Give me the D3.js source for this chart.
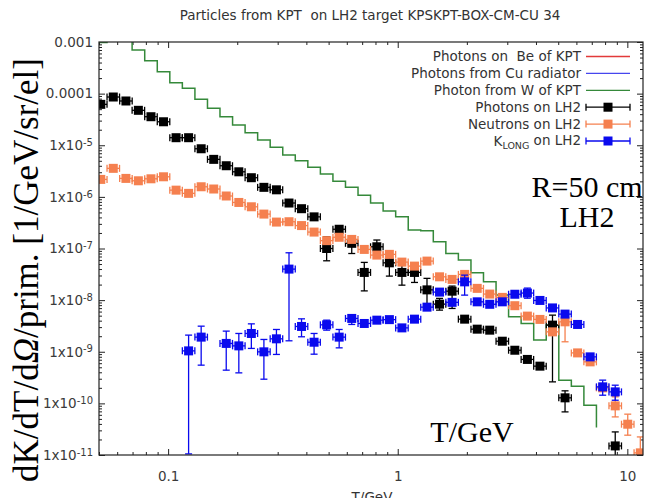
<!DOCTYPE html>
<html>
<head>
<meta charset="utf-8">
<script src="https://cdn.jsdelivr.net/npm/d3@7"></script>
<style>
  body { margin: 0; background: #fff; }
  svg { display: block; }
  text { font-family: "DejaVu Sans", sans-serif; }
</style>
</head>
<body>
<svg id="chart" width="646" height="498"></svg>
<script>
// bin centres in GeV, same binning for every series
var energies = [0.0509, 0.0577, 0.0655, 0.0742, 0.0842, 0.0955, 0.1083, 0.1228, 0.1393, 0.1580,
  0.1791, 0.2032, 0.2304, 0.2613, 0.2963, 0.3361, 0.3811, 0.4322, 0.4902, 0.5559,
  0.6305, 0.7150, 0.8109, 0.9196, 1.043, 1.183, 1.341, 1.521, 1.725, 1.956,
  2.219, 2.516, 2.854, 3.236, 3.670, 4.163, 4.721, 5.354, 6.072, 6.886,
  7.809, 8.856, 10.04, 11.39];

// histogram lines (histeps). Be and Cu have nothing inside the frame
var photonsBe = [];
var photonsCu = [];
var photonsW = [9.8e-4, 1.6e-3, 1.3e-3, 7.0e-4, 4.34e-4, 2.66e-4, 1.63e-4, 1.27e-4, 7.76e-5, 5.19e-5,
  3.57e-5, 2.46e-5, 1.75e-5, 1.26e-5, 9.1e-6, 6.46e-6, 5.01e-6, 3.73e-6, 2.77e-6, 2.0e-6,
  1.53e-6, 1.08e-6, 7.6e-7, 5.31e-7, 4.11e-7, 2.27e-7, 2.2e-7, 1.35e-7, 8.0e-8, 5.96e-8,
  3.38e-8, 2.26e-8, 1.25e-8, 4.74e-9, 3.53e-9, 1.68e-9, 3.28e-9, 2.82e-10, 2.15e-10, 9.2e-11,
  3.41e-11];

// points with error bars (null = no point / bar hidden by marker)
var photonsLH2 = [6.2e-5, 8.6e-5, 7.2e-5, 4.75e-5, 3.57e-5, 2.85e-5, 1.40e-5, 1.40e-5, 8.55e-6, 5.33e-6,
  4.01e-6, 3.06e-6, 2.35e-6, 1.53e-6, 1.37e-6, 7.6e-7, 5.9e-7, 4.1e-7, 1.0e-7, 2.36e-7,
  1.26e-7, 3.44e-8, 1.08e-7, 5.28e-8, 3.44e-8, 3.44e-8, 1.58e-8, 8.36e-9, 1.49e-8, 4.28e-9,
  2.74e-9, 2.62e-9, 1.60e-9, 1.07e-9, 7.1e-10, 5.26e-10, 3.28e-9, 1.28e-10, null, null,
  null, 1.5e-11, null, null];
var photonsLH2Hi = [null, null, null, null, null, null, null, null, null, null,
  null, null, null, null, null, null, null, null, 1.69e-7, null,
  1.57e-7, 5.38e-8, 1.46e-7, 8.0e-8, 4.77e-8, 4.6e-8, 2.64e-8, 1.08e-8, 1.87e-8, null,
  null, null, null, null, null, null, 5.12e-9, 1.75e-10, null, null,
  null, 2.8e-11, null, null];
var photonsLH2Lo = [null, null, null, null, null, null, null, null, null, null,
  null, null, null, null, null, null, null, null, 5.78e-8, null,
  8.0e-8, 1.51e-8, 8.6e-8, 2.92e-8, 1.95e-8, 2.2e-8, 8.0e-9, 6.4e-9, 6.9e-9, null,
  null, null, null, null, null, null, 2.61e-10, 6.84e-11, null, null,
  null, 1e-12, null, null];

var neutronsLH2 = [2.18e-6, 3.57e-6, 2.28e-6, 2.05e-6, 2.24e-6, 2.45e-6, 1.35e-6, 1.17e-6, 1.57e-6, 1.42e-6,
  1.04e-6, 7.8e-7, 6.43e-7, 4.64e-7, 3.25e-7, 3.3e-7, 2.78e-7, 2.08e-7, 1.42e-7, 1.65e-7,
  1.50e-7, 9.6e-8, 7.45e-8, 7.7e-8, 5.45e-8, 4.56e-8, 5.7e-8, 2.83e-8, 2.52e-8, 3.15e-8,
  1.69e-8, 1.31e-8, 1.13e-8, 7.8e-9, 4.9e-9, 4.23e-9, 2.43e-9, 3.8e-9, 9.5e-10, 6.37e-10,
  2.0e-10, 8.95e-11, 3.95e-11, 1.1e-11];
var neutronsLH2Hi = [null, null, null, null, null, null, null, null, null, null,
  null, null, null, null, null, null, null, null, null, null,
  null, null, null, null, null, null, null, null, null, null,
  null, null, null, null, null, null, null, 5.36e-9, null, null,
  null, 1.34e-10, 6.18e-11, 2.24e-11];
var neutronsLH2Lo = [null, null, null, null, null, null, null, null, null, null,
  null, null, null, null, null, null, null, null, null, null,
  null, null, null, null, null, null, null, null, null, null,
  null, null, null, null, null, null, null, 1.56e-9, null, null,
  null, 5.47e-11, 2.42e-11, 1e-12];

var klongLH2 = [null, null, null, null, null, null, null, 1.04e-9, 1.92e-9, null,
  1.45e-9, 1.30e-9, 2.26e-9, 9.96e-10, 1.78e-9, 3.99e-8, 3.09e-9, 1.53e-9, 3.32e-9, 1.92e-9,
  4.42e-9, 3.53e-9, 4.09e-9, 4.19e-9, 2.9e-9, 4.28e-9, 7.31e-9, 1.43e-8, 9.06e-9, 2.26e-8,
  9.27e-9, 8.3e-9, 9.27e-9, 1.3e-8, 1.37e-8, 9.86e-9, 7.06e-9, 5.36e-9, 3.38e-9, 7.96e-10,
  2.09e-10, 1.67e-10, null, null];
var klongLH2Hi = [null, null, null, null, null, null, null, 2.1e-9, 3.13e-9, null,
  2.51e-9, 2.26e-9, 3.47e-9, 1.73e-9, 2.7e-9, 8.26e-8, 4.34e-9, 2.26e-9, 4.09e-9, 2.7e-9,
  5.19e-9, null, null, null, null, null, null, null, null, 3.05e-8,
  null, null, null, null, 1.71e-8, null, null, null, null, null,
  2.82e-10, 2.25e-10, null, null];
var klongLH2Lo = [null, null, null, null, null, null, null, 1.05e-11, 5.5e-10, null,
  4.4e-10, 3.9e-10, 1.16e-9, 2.94e-10, 8.87e-10, 1.63e-9, 1.95e-9, 8.97e-10, 2.62e-9, 1.19e-9,
  3.38e-9, null, null, null, null, null, null, null, null, 1.25e-8,
  null, null, null, null, 1.09e-8, null, null, null, null, null,
  1.44e-10, 1.15e-10, null, null];

var xTicks = [0.1, 1, 10];
var xTickLabels = ["0.1", "1", "10"];
var yTicks = [1e-3, 1e-4, 1e-5, 1e-6, 1e-7, 1e-8, 1e-9, 1e-10, 1e-11];
var yTickLabels = [["0.001", ""], ["0.0001", ""], ["1x10", "-5"], ["1x10", "-6"], ["1x10", "-7"],
  ["1x10", "-8"], ["1x10", "-9"], ["1x10", "-10"], ["1x10", "-11"]];

var legendLabels = ["Photons on  Be of KPT", "Photons from Cu radiator", "Photon from W of KPT",
  "Photons on LH2", "Neutrons on LH2", "K"];

var colRed = "#e23a3a", colBlueLine = "#4646ee", colGreen = "#35893a";
var colBlack = "#000", colOrange = "#f5804f", colBlue = "#0a0aee";

var W = 646, H = 498;
var margin = {top: 42, right: 3, bottom: 43, left: 99};
var svg = d3.select("#chart");

var x = d3.scaleLog().domain([0.05, 11.7]).range([margin.left, W - margin.right]);
var y = d3.scaleLog().domain([1e-11, 1e-3]).range([H - margin.bottom, margin.top]);

// half bin width as a ratio (log bins)
var half = Math.sqrt(energies[1] / energies[0]);

svg.append("defs").append("clipPath").attr("id", "clip")
  .append("rect")
  .attr("x", margin.left).attr("y", margin.top)
  .attr("width", W - margin.right - margin.left)
  .attr("height", H - margin.bottom - margin.top);

function isMajor(d) {
  var l = Math.log10(d);
  return Math.abs(l - Math.round(l)) < 1e-6;
}
var xMinor = x.ticks().filter(function(d) { return !isMajor(d); });
var yMinor = y.ticks().filter(function(d) { return !isMajor(d); });

function axisGroup(axis, tx, ty) {
  var g = svg.append("g")
    .attr("transform", "translate(" + tx + "," + ty + ")")
    .call(axis)
    .attr("font-size", 13.5)
    .attr("color", "#222");
  g.select(".domain").remove();
  g.selectAll(".tick text").attr("fill", "#3a3a3a");
  return g;
}

var xR = W - margin.right, yB = H - margin.bottom, yT = margin.top;

// major ticks w/ labels
axisGroup(d3.axisBottom(x).tickValues(xTicks).tickSize(-6).tickPadding(16)
  .tickFormat(function(d, i) { return xTickLabels[i]; }), 0, yB);
var yl = axisGroup(d3.axisLeft(y).tickValues(yTicks).tickSize(-6).tickPadding(6)
  .tickFormat(function(d, i) { return yTickLabels[i][0]; }), margin.left, 0);
yl.selectAll(".tick text").each(function(d, i) {
  if (yTickLabels[i][1]) {
    d3.select(this).append("tspan").attr("dy", "-0.42em").attr("font-size", 10)
      .text(yTickLabels[i][1]);
  }
});
axisGroup(d3.axisTop(x).tickValues(xTicks).tickSize(-6).tickFormat(""), 0, yT);
axisGroup(d3.axisRight(y).tickValues(yTicks).tickSize(-6).tickFormat(""), xR, 0);

// minor ticks
axisGroup(d3.axisBottom(x).tickValues(xMinor).tickSize(-3).tickFormat(""), 0, yB);
axisGroup(d3.axisTop(x).tickValues(xMinor).tickSize(-3).tickFormat(""), 0, yT);
axisGroup(d3.axisLeft(y).tickValues(yMinor).tickSize(-3).tickFormat(""), margin.left, 0);
axisGroup(d3.axisRight(y).tickValues(yMinor).tickSize(-3).tickFormat(""), xR, 0);

var plot = svg.append("g").attr("clip-path", "url(#clip)");

// histogram steps: one point per left bin edge, last point only closes the step
var stepLine = d3.line()
  .x(function(d) { return x(d[0]); })
  .y(function(d) { return y(d[1]); })
  .curve(d3.curveStepAfter);

[[photonsBe, colRed], [photonsCu, colBlueLine], [photonsW, colGreen]].forEach(function(s) {
  var pts = s[0].map(function(v, i) { return [energies[i] / half, v]; });
  plot.append("path")
    .attr("d", stepLine(pts) || "")
    .attr("fill", "none")
    .attr("stroke", s[1])
    .attr("stroke-width", 1.5);
});

var MS = 9, CAP = 3.5;

function drawPoints(vals, hi, lo, color) {
  var pts = [];
  vals.forEach(function(v, i) {
    if (v != null) pts.push({e: energies[i], v: v, hi: hi[i], lo: lo[i]});
  });
  var g = plot.append("g").attr("stroke", color).attr("stroke-width", 1.3);
  pts.forEach(function(d) {
    var cx = x(d.e), cy = y(d.v), x0 = x(d.e / half), x1 = x(d.e * half);
    g.append("line").attr("x1", x0).attr("x2", x1).attr("y1", cy).attr("y2", cy);
    g.append("line").attr("x1", x0).attr("x2", x0).attr("y1", cy - CAP).attr("y2", cy + CAP);
    g.append("line").attr("x1", x1).attr("x2", x1).attr("y1", cy - CAP).attr("y2", cy + CAP);
    if (d.hi != null) {
      var y0 = y(d.hi), y1 = y(d.lo);
      g.append("line").attr("x1", cx).attr("x2", cx).attr("y1", y0).attr("y2", y1);
      g.append("line").attr("x1", cx - CAP).attr("x2", cx + CAP).attr("y1", y0).attr("y2", y0);
      g.append("line").attr("x1", cx - CAP).attr("x2", cx + CAP).attr("y1", y1).attr("y2", y1);
    }
  });
  plot.append("g").selectAll("rect")
    .data(pts)
    .join("rect")
    .attr("x", function(d) { return x(d.e) - MS / 2; })
    .attr("y", function(d) { return y(d.v) - MS / 2; })
    .attr("width", MS).attr("height", MS)
    .attr("fill", color);
}

drawPoints(photonsLH2, photonsLH2Hi, photonsLH2Lo, colBlack);
drawPoints(neutronsLH2, neutronsLH2Hi, neutronsLH2Lo, colOrange);
drawPoints(klongLH2, klongLH2Hi, klongLH2Lo, colBlue);

// frame
svg.append("rect")
  .attr("x", margin.left).attr("y", yT)
  .attr("width", xR - margin.left).attr("height", yB - yT)
  .attr("fill", "none").attr("stroke", "#222").attr("stroke-width", 1.2);

// title
svg.append("text")
  .attr("x", 370).attr("y", 20)
  .attr("text-anchor", "middle")
  .attr("font-size", 13.5)
  .attr("fill", "#333")
  .style("white-space", "pre")
  .text("Particles from KPT  on LH2 target KPSKPT-BOX-CM-CU 34");

// x axis title (cut by the bottom of the image)
svg.append("text")
  .attr("x", 372).attr("y", 502)
  .attr("text-anchor", "middle")
  .attr("font-size", 13.5)
  .attr("fill", "#333")
  .text("T/GeV");

// legend
var legendColors = [colRed, colBlueLine, colGreen, colBlack, colOrange, colBlue];
var leg = svg.append("g");
legendLabels.forEach(function(lab, i) {
  var ly = 56.5 + i * 16.9;
  var t = leg.append("text")
    .attr("x", 581).attr("y", ly).attr("dy", "0.36em")
    .attr("text-anchor", "end")
    .attr("font-size", 13.5)
    .attr("fill", "#333")
    .style("white-space", "pre")
    .text(lab);
  if (i == 5) {
    t.append("tspan").attr("font-size", 9.5).attr("dy", "0.3em").text("LONG");
    t.append("tspan").attr("dy", "-0.3em").text(" on LH2");
  }
  leg.append("line")
    .attr("x1", 586).attr("x2", 630).attr("y1", ly).attr("y2", ly)
    .attr("stroke", legendColors[i]).attr("stroke-width", 1.3);
  if (i >= 3) {
    leg.append("line").attr("x1", 586).attr("x2", 586).attr("y1", ly - CAP).attr("y2", ly + CAP)
      .attr("stroke", legendColors[i]).attr("stroke-width", 1.3);
    leg.append("line").attr("x1", 630).attr("x2", 630).attr("y1", ly - CAP).attr("y2", ly + CAP)
      .attr("stroke", legendColors[i]).attr("stroke-width", 1.3);
    leg.append("rect").attr("x", 608 - MS / 2).attr("y", ly - MS / 2)
      .attr("width", MS).attr("height", MS).attr("fill", legendColors[i]);
  }
});

// big serif annotations (style, so the css rule above does not win)
var serif = '"Liberation Serif", "Times New Roman", serif';
svg.append("text")
  .attr("transform", "translate(38,270) rotate(-90)")
  .attr("text-anchor", "middle")
  .style("font-family", serif)
  .attr("font-size", 35)
  .attr("fill", "#000")
  .html('dK/dT/d<tspan font-style="italic">Ω</tspan>/prim. [1/GeV/sr/el]');

svg.append("text")
  .attr("x", 587).attr("y", 197)
  .attr("text-anchor", "middle")
  .style("font-family", serif).attr("font-size", 30)
  .attr("fill", "#000")
  .text("R=50 cm");
svg.append("text")
  .attr("x", 587).attr("y", 227)
  .attr("text-anchor", "middle")
  .style("font-family", serif).attr("font-size", 30)
  .attr("fill", "#000")
  .text("LH2");
svg.append("text")
  .attr("x", 472).attr("y", 442)
  .attr("text-anchor", "middle")
  .style("font-family", serif).attr("font-size", 30)
  .attr("fill", "#000")
  .text("T/GeV");
</script>
</body>
</html>
